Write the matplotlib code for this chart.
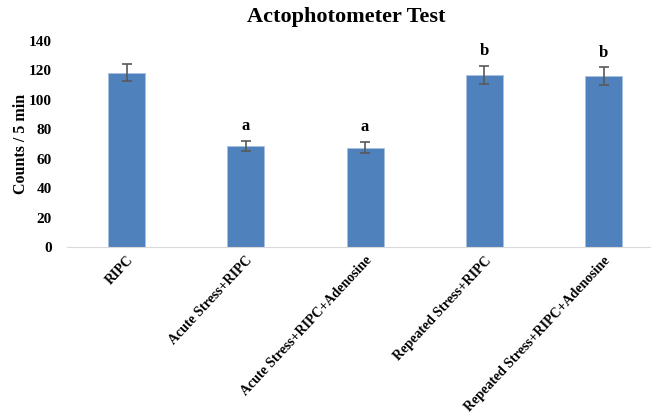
import matplotlib.pyplot as plt
import numpy as np

plt.rcParams['font.family'] = ['Liberation Serif', 'DejaVu Serif']
plt.rcParams['font.weight'] = 'bold'

groups = ['RIPC', 'Acute Stress+RIPC', 'Acute Stress+RIPC+Adenosine',
          'Repeated Stress+RIPC', 'Repeated Stress+RIPC+Adenosine']
means = [118.5, 68.5, 67.5, 117, 116]
errors = [6, 3.5, 3.6, 6, 6]
letters = ['', 'a', 'a', 'b', 'b']

fig = plt.figure(figsize=(6.56, 4.16), dpi=100)
ax = fig.add_axes([67 / 656, 169 / 416, 583 / 656, 206 / 416])

x = np.arange(len(groups))
ax.bar(x, means, width=0.31, color='#4f81bd', edgecolor='#a9c1e0', linewidth=0.6,
       yerr=errors, capsize=3.5,
       error_kw=dict(ecolor='#595959', elinewidth=1.2, capthick=1.2))

# significance letters above the error bars
for xi, m, e, t in zip(x, means, errors, letters):
    if t:
        ax.annotate(t, (xi, m + e), xytext=(0, 5), textcoords='offset points',
                    ha='center', va='bottom', fontsize=12, fontweight='bold')

ax.set_xlim(-0.5, 4.39)
ax.set_ylim(0, 140)
ax.set_yticks(range(0, 141, 20))
ax.set_xticks(x)
ax.set_xticklabels(groups, rotation=47, ha='right', rotation_mode='anchor',
                   fontsize=10, fontweight='bold')
ax.tick_params(axis='both', length=0)
ax.tick_params(axis='y', pad=11, labelsize=11)
ax.tick_params(axis='x', pad=5)

for s in ['top', 'right', 'left']:
    ax.spines[s].set_visible(False)
ax.spines['bottom'].set_color('#d9d9d9')

ax.set_ylabel('Counts / 5 min', fontsize=11.5, fontweight='bold', labelpad=0)
fig.text(346 / 656, 1 - 17 / 416, 'Actophotometer Test', ha='center', va='center',
         fontsize=16, fontweight='bold')

fig.savefig('out.png', dpi=100)
